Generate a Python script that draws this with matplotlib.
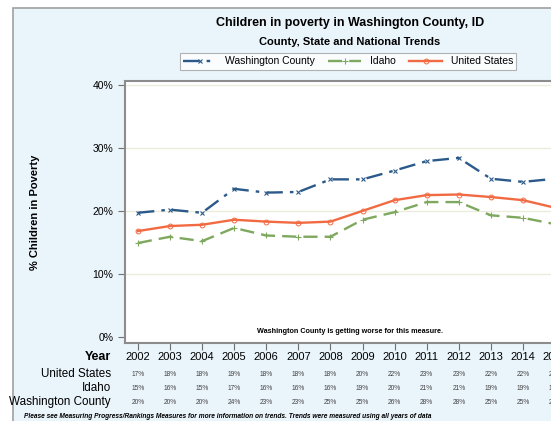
import matplotlib
matplotlib.use("Agg")
import matplotlib.pyplot as plt
import matplotlib.transforms as mtransforms
from matplotlib.patches import Rectangle

plt.rcParams['font.family'] = ['Liberation Sans', 'DejaVu Sans']

# data
years = [2002, 2003, 2004, 2005, 2006, 2007, 2008, 2009, 2010, 2011, 2012, 2013, 2014, 2015]
washington = [19.7, 20.2, 19.7, 23.5, 22.9, 23.0, 25.0, 25.0, 26.4, 27.9, 28.4, 25.1, 24.6, 25.1]
idaho = [14.9, 15.9, 15.2, 17.3, 16.1, 15.9, 15.9, 18.6, 19.8, 21.4, 21.4, 19.3, 18.9, 17.9]
united_states = [16.8, 17.6, 17.8, 18.6, 18.3, 18.1, 18.3, 20.0, 21.7, 22.5, 22.6, 22.2, 21.7, 20.5]

# table values (rounded, as printed)
tbl_us = ['17%', '18%', '18%', '19%', '18%', '18%', '18%', '20%', '22%', '23%', '23%', '22%', '22%', '21%']
tbl_id = ['15%', '16%', '15%', '17%', '16%', '16%', '16%', '19%', '20%', '21%', '21%', '19%', '19%', '18%']
tbl_wc = ['20%', '20%', '20%', '24%', '23%', '23%', '25%', '25%', '26%', '28%', '28%', '25%', '25%', '25%']

yticks = [0, 10, 20, 30, 40]

c_wc = '#2b5a8a'
c_id = '#7ea85e'
c_us = '#f26a42'
panel = '#eaf4fb'

fig = plt.figure(figsize=(5.51, 4.21), dpi=100)
fig.patch.set_facecolor('white')

# light blue panel behind everything
fig.patches.append(Rectangle((13 / 551, -0.1), 1.2, 1 - 8 / 421 + 0.1, transform=fig.transFigure,
                             facecolor=panel, edgecolor='#a0a0a0', linewidth=1.2, zorder=-10))

ax = fig.add_axes([125 / 551, 1 - 343 / 421, 475 / 551, 262 / 421])
ax.set_facecolor('white')

ax.plot(years, washington, color=c_wc, linestyle=(0, (7, 3, 1.5, 3)), linewidth=1.7,
        marker='x', markersize=3.5, markeredgewidth=0.8, label='Washington County')
ax.plot(years, idaho, color=c_id, linestyle=(0, (6, 3)), linewidth=1.7,
        marker='+', markersize=4.5, markeredgewidth=0.8, label='Idaho')
ax.plot(years, united_states, color=c_us, linestyle='-', linewidth=1.7,
        marker='o', markersize=3.5, markerfacecolor='none', markeredgewidth=0.7, label='United States')

ax.set_xlim(2001.6, 2016.4)
ax.set_ylim(-0.95, 40.6)
ax.set_yticks(yticks)
ax.set_yticklabels([f'{v}%' for v in yticks], fontsize=7.5)
ax.set_xticks(years + [2016])
ax.set_xticklabels([])
ax.tick_params(axis='both', direction='out', length=5, color='#707070', width=0.8)
for v in yticks[1:]:
    ax.axhline(v, color='#ececdc', linewidth=1, zorder=0)
for s in ax.spines.values():
    s.set_color('#8c8c8c')
    s.set_linewidth(1.5)

ax.set_ylabel('% Children in Poverty', fontsize=8, fontweight='bold')
ax.yaxis.set_label_coords(-0.18, 0.5)

ax.text(2008.6, 0.3, 'Washington County is getting worse for this measure.', fontsize=5.2,
        fontweight='bold', ha='center', va='bottom')

# titles
fig.text(350 / 551, 1 - 23 / 421, 'Children in poverty in Washington County, ID', fontsize=9,
         fontweight='bold', ha='center', va='center')
fig.text(350 / 551, 1 - 42 / 421, 'County, State and National Trends', fontsize=8,
         fontweight='bold', ha='center', va='center')

leg = fig.legend(loc='center', bbox_to_anchor=(348 / 551, 1 - 61.5 / 421), ncol=3, fontsize=7.5,
                 frameon=True, fancybox=False, edgecolor='#a0a0a0', borderpad=0.3,
                 handlelength=3.2, columnspacing=1.3, handletextpad=0.8, numpoints=1)
leg.get_frame().set_linewidth(0.8)

# data table under the plot
tr = mtransforms.blended_transform_factory(ax.transData, fig.transFigure)
rows = [('Year', None, 1 - 357 / 421), ('United States', tbl_us, 1 - 374 / 421),
        ('Idaho', tbl_id, 1 - 388 / 421), ('Washington County', tbl_wc, 1 - 402 / 421)]
for name, vals, yy in rows:
    if vals is None:
        fig.text(111 / 551, yy, name, fontsize=9, fontweight='bold', ha='right', va='center')
        for yr in years:
            ax.text(yr, yy, str(yr), transform=tr, fontsize=8, ha='center', va='center', clip_on=False)
    else:
        fig.text(111 / 551, yy, name, fontsize=8.4, ha='right', va='center')
        for yr, v in zip(years, vals):
            ax.text(yr, yy, v, transform=tr, fontsize=4.8, ha='center', va='center',
                    color='#444444', clip_on=False)

fig.text(24 / 551, 1 - 417 / 421,
         'Please see Measuring Progress/Rankings Measures for more information on trends. '
         'Trends were measured using all years of data',
         fontsize=4.8, fontweight='bold', fontstyle='italic', ha='left', va='center')

fig.savefig('out.png', dpi=100)
